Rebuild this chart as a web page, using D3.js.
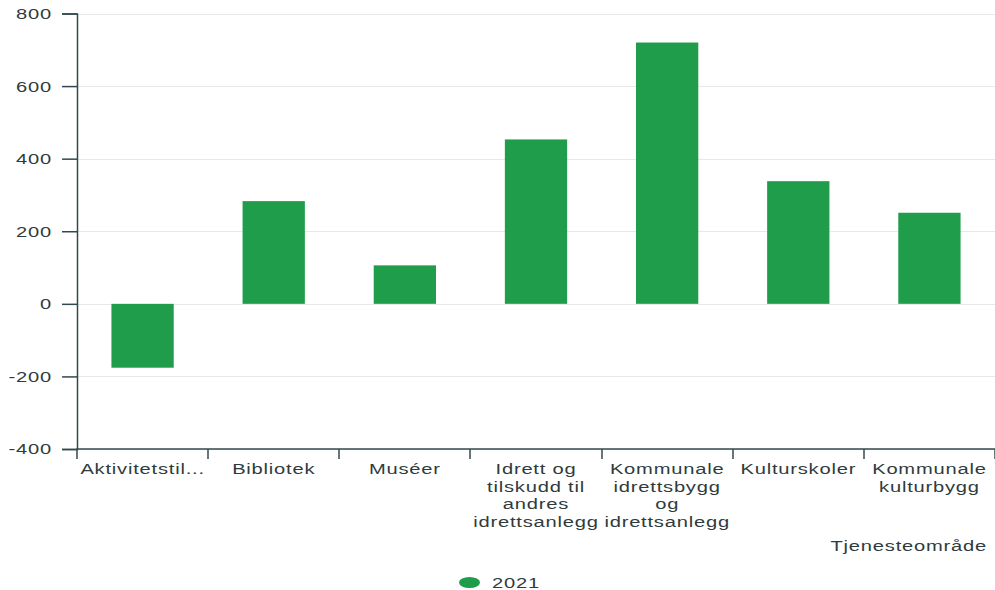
<!DOCTYPE html>
<html>
<head>
<meta charset="utf-8">
<script src="https://cdn.jsdelivr.net/npm/d3@7"></script>
<style>
  html, body { margin: 0; padding: 0; background: #ffffff; }
  svg { display: block; }
  text { font-family: "Liberation Sans", Arial, sans-serif; font-size: 15.5px; fill: #2f3b3d; letter-spacing: 0.6px; }
</style>
</head>
<body>
<svg id="chart" width="995" height="590"></svg>
<script>
const categories = [
  "Aktivitetstilbud barn og unge",
  "Bibliotek",
  "Muséer",
  "Idrett og tilskudd til andres idrettsanlegg",
  "Kommunale idrettsbygg og idrettsanlegg",
  "Kulturskoler",
  "Kommunale kulturbygg"
];
const values2021 = [-176, 283, 106, 453, 720, 338, 251];
const yTicks = [-400, -200, 0, 200, 400, 600, 800];
const seriesName = "2021";
const xAxisTitle = "Tjenesteområde";

(function () {
const SX = 1.3;          // horizontal glyph stretch seen in the reference
const green = "#1f9d4a";
const axisColor = "#34484b";

const svg = d3.select("#chart");
const pLeft = 77, pRight = 995, pTop = 13.5, pBottom = 449;

const y = d3.scaleLinear().domain([-400, 800]).range([pBottom, pTop]);
const x = d3.scaleBand().domain(categories).range([pLeft, pRight]).padding(0);

// gridlines
svg.append("g").selectAll("line").data(yTicks).join("line")
  .attr("x1", pLeft).attr("x2", pRight)
  .attr("y1", d => Math.round(y(d)) + 0.5).attr("y2", d => Math.round(y(d)) + 0.5)
  .attr("stroke", "#e8e8e8").attr("stroke-width", 1);

// bars
const bw = x.bandwidth() * 0.475;
svg.append("g").selectAll("rect").data(categories).join("rect")
  .attr("x", d => x(d) + (x.bandwidth() - bw) / 2)
  .attr("width", bw)
  .attr("y", (d, i) => y(Math.max(0, values2021[i])))
  .attr("height", (d, i) => Math.abs(y(values2021[i]) - y(0)))
  .attr("fill", green);

// y axis
const yAxis = svg.append("g").attr("transform", `translate(${pLeft},0)`)
  .call(d3.axisLeft(y).tickValues(yTicks).tickSize(15).tickPadding(10).tickFormat(d => String(d)));
yAxis.select(".domain").attr("stroke", axisColor).attr("stroke-width", 1.5);
yAxis.selectAll(".tick line").attr("stroke", axisColor).attr("stroke-width", 1.5);
yAxis.attr("font-size", null).attr("font-family", null);
yAxis.selectAll(".tick text")
  .attr("x", null)
  .attr("transform", `translate(-25,0) scale(${SX},1)`)
  .style("fill", "#2f3b3d");

// x axis (ticks at band boundaries)
const xg = svg.append("g");
xg.append("line").attr("x1", pLeft - 0.75).attr("x2", pRight).attr("y1", pBottom).attr("y2", pBottom)
  .attr("stroke", axisColor).attr("stroke-width", 1.5);
const bounds = categories.map(c => x(c)).concat([pRight]);
xg.selectAll("line.tk").data(bounds).join("line").attr("class", "tk")
  .attr("x1", d => Math.round(d)).attr("x2", d => Math.round(d))
  .attr("y1", pBottom).attr("y2", pBottom + 10)
  .attr("stroke", axisColor).attr("stroke-width", 1.5);

// x labels with wrapping / truncation
const maxW = x.bandwidth() - 2;
const measure = svg.append("text").attr("visibility", "hidden");
function textW(s) { measure.text(s); return measure.node().getComputedTextLength() * SX; }
function wrapLabel(label) {
  const words = label.split(" ");
  const lines = [];
  let cur = "";
  for (const w of words) {
    const cand = cur ? cur + " " + w : w;
    if (textW(cand) <= maxW) { cur = cand; continue; }
    if (cur) { lines.push(cur); cur = ""; }
    if (textW(w) <= maxW) { cur = w; }
    else {
      let t = w;
      while (t.length > 1 && textW(t + "...") > maxW) t = t.slice(0, -1);
      lines.push(t + "...");
      return lines;
    }
  }
  if (cur) lines.push(cur);
  return lines;
}
const lineH = 17.7;
categories.forEach(c => {
  const lines = wrapLabel(c);
  const cx = x(c) + x.bandwidth() / 2;
  lines.forEach((ln, i) => {
    svg.append("text")
      .attr("text-anchor", "middle")
      .attr("transform", `translate(${cx},${474 + i * lineH}) scale(${SX},1)`)
      .text(ln);
  });
});
measure.remove();

// axis title
svg.append("text").attr("text-anchor", "end")
  .attr("transform", `translate(987,551) scale(${SX},1)`)
  .text(xAxisTitle);

// legend
svg.append("ellipse").attr("cx", 469.5).attr("cy", 582.5).attr("rx", 10.5).attr("ry", 5.5).attr("fill", green);
svg.append("text").attr("transform", `translate(492,588) scale(${SX},1)`).text(seriesName);
})();
</script>
</body>
</html>
